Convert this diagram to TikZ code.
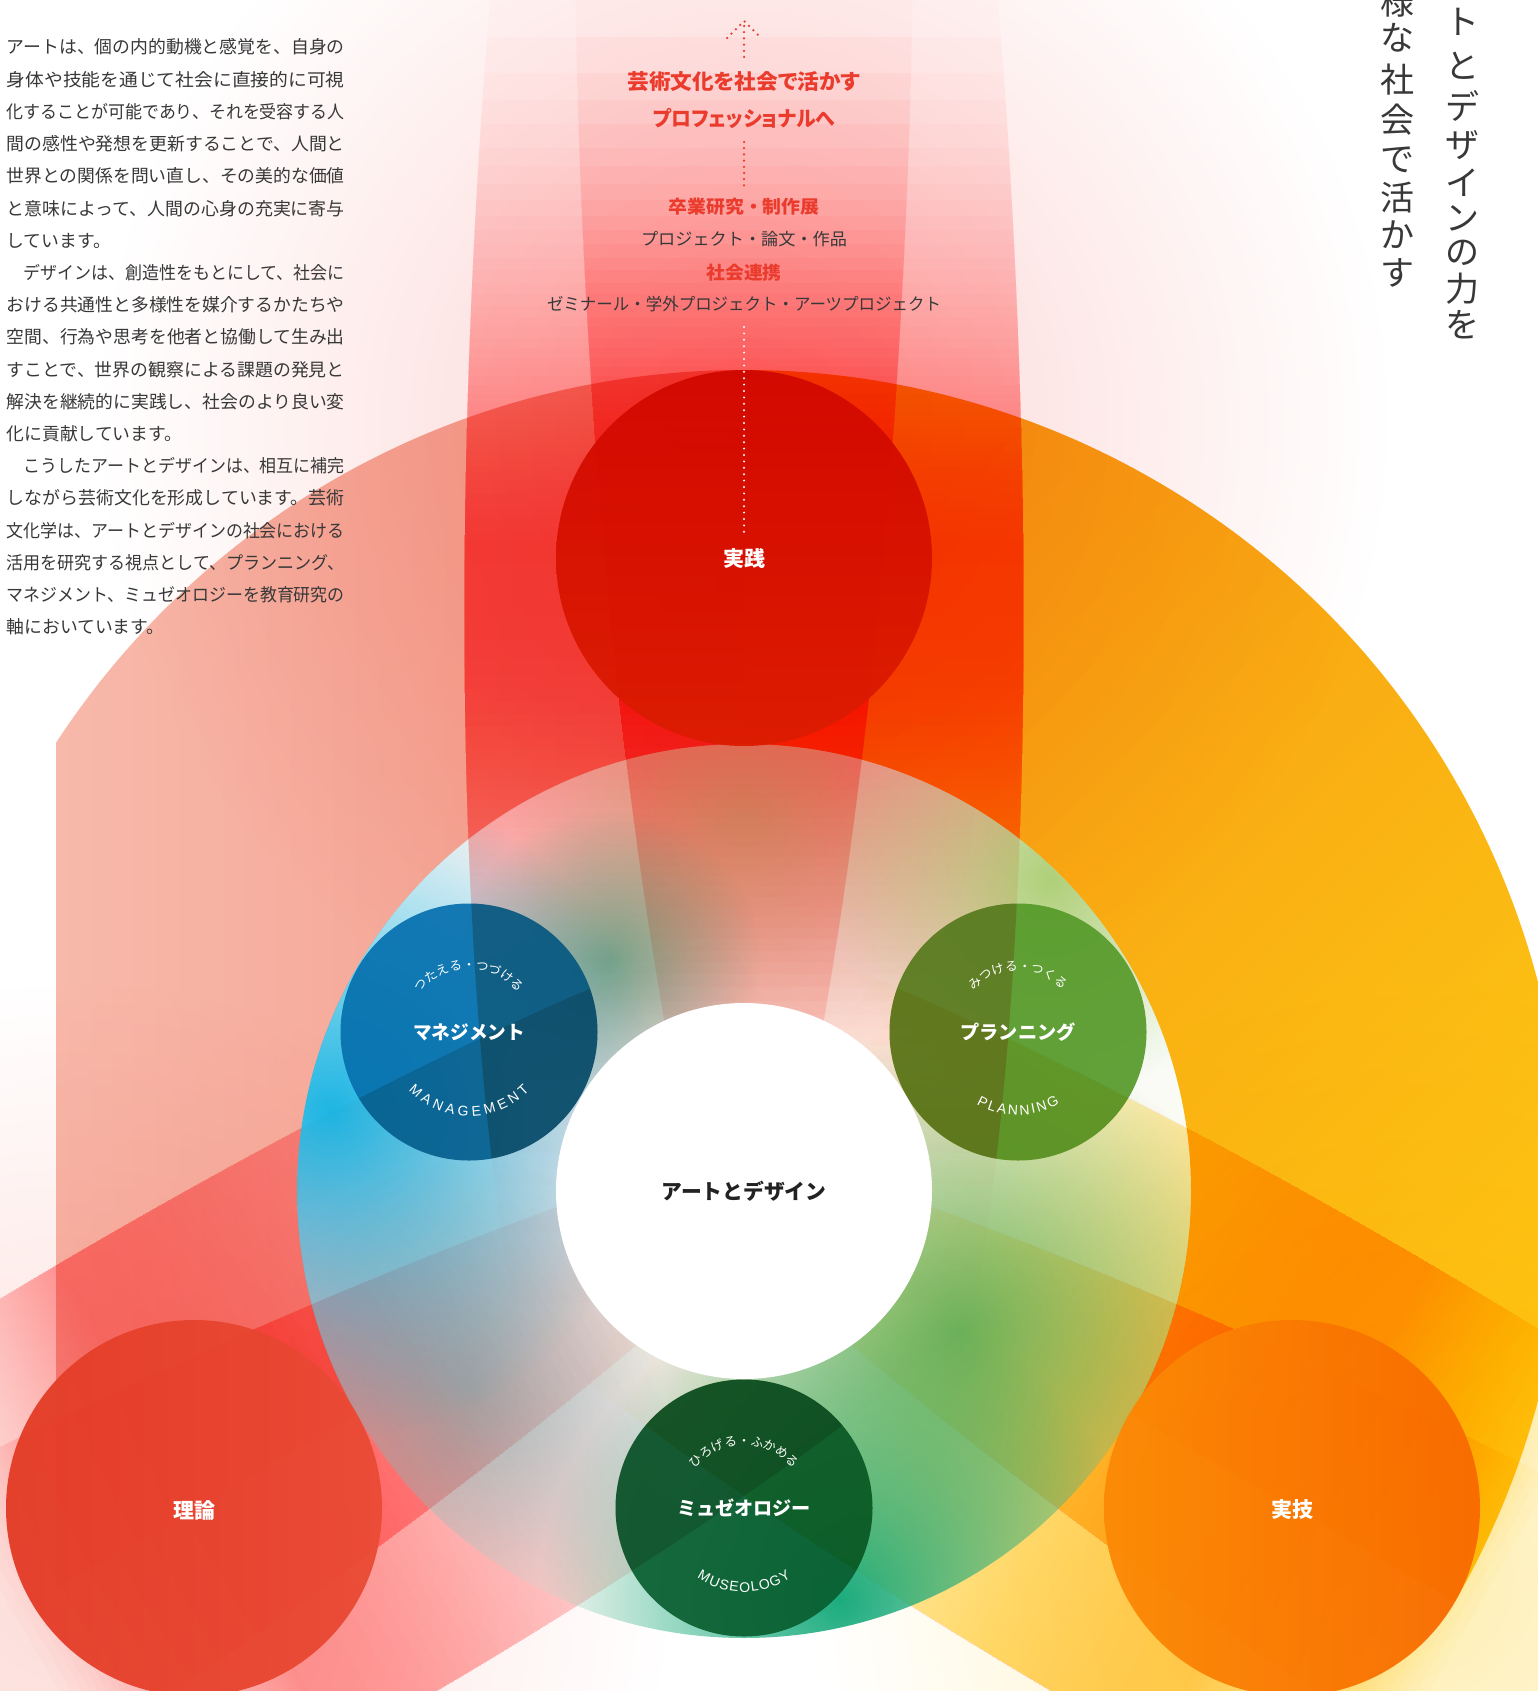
\documentclass[tikz,border=0pt]{standalone}
\usepackage{fontspec}
\usepackage{graphicx}
\usetikzlibrary{decorations.text,calc,fadings}
\newfontfamily\jp{Noto Sans CJK JP}
\newfontfamily\jpp{Noto Sans CJK JP}[RawFeature=+palt]
\newfontfamily\lat{Liberation Sans}
\definecolor{txt}{HTML}{383838}
\definecolor{hred}{HTML}{EA3B2D}
\definecolor{cRed}{HTML}{EE2119}
\definecolor{cSal}{HTML}{F5877A}
\definecolor{cGold}{HTML}{FDC800}
\definecolor{secAa}{HTML}{F8BFB1}
\definecolor{secAb}{HTML}{F39A88}
\definecolor{secBa}{HTML}{F69A12}
\definecolor{secBb}{HTML}{FECC14}
\definecolor{ringbase}{HTML}{EAF3EA}
\definecolor{cyanb}{HTML}{12B2E2}
\definecolor{tealb}{HTML}{10A878}
\definecolor{greenr}{HTML}{3DA24A}
\definecolor{greenb}{HTML}{A2C963}
\definecolor{tealc}{HTML}{3A9AA0}
\definecolor{tealg}{HTML}{1E8A6A}
\definecolor{olivet}{HTML}{8C9A3C}
\definecolor{cMan}{HTML}{0670AE}
\definecolor{cPlan}{HTML}{569A2A}
\definecolor{cMus}{HTML}{095E30}
\definecolor{ovRed}{HTML}{FFCFC2}
\definecolor{ovSal}{HTML}{F2DED6}
\definecolor{ovGold}{HTML}{FFF0C8}
\definecolor{jsA}{HTML}{D10800}
\definecolor{jsB}{HTML}{DC1D02}
\definecolor{rrA}{HTML}{E43C27}
\definecolor{rrB}{HTML}{EA4B36}
\definecolor{jgA}{HTML}{FB8A06}
\definecolor{jgB}{HTML}{F86A00}
\definecolor{dark}{HTML}{222222}
\colorlet{inkRed}{cRed!1.8!white}
\colorlet{inkSal}{cSal!1.6!white}
\colorlet{inkGold}{cGold!2!white}
\tikzfading[name=softdisc, inner color=transparent!0, outer color=transparent!100]
% one tilted ellipse of a lobe, built from nested layers of light ink
% #1 centre x, #2 tilt, #3 ink colour, #4 start of fade, #5 peak, #6 exponent, #7 layers
\newcommand\lobeellipse[7]{%
  \begin{scope}
    \clip[rotate around={#2:(#1,250)}] (#1,250) ellipse [x radius=215, y radius=1290];
    \foreach \j in {1,...,#7}{%
      \pgfmathsetmacro\ya{#4+(#5-#4)*pow(\j/#7,1/#6)}%
      \pgfmathsetmacro\yb{min(1600,560+380*sqrt(0.0001-ln(\j/#7)))}%
      \fill[#3] (300,\ya) rectangle (1200,\yb);}
  \end{scope}}
\newcommand\drawlobe[5]{%
  \begin{scope}[rotate around={#1:(744,1191)}]
    \lobeellipse{689}{-2.9}{#2}{#3}{#4}{#5}{46}
    \lobeellipse{799}{2.9}{#2}{#3}{#4}{#5}{46}
  \end{scope}}
\newcommand\flatlobe[2]{%
  \begin{scope}[rotate around={#1:(744,1191)}]
    \fill[#2, rotate around={-2.9:(689,250)}] (689,250) ellipse [x radius=215, y radius=1290];
    \fill[#2, rotate around={2.9:(799,250)}] (799,250) ellipse [x radius=215, y radius=1290];
  \end{scope}}
\newcommand\arcjp{\jp\fontsize{12.5}{14}\selectfont}
\newcommand\arclat{\lat\fontsize{14}{16}\selectfont}
\begin{document}
\begin{tikzpicture}[x=1pt,y=-1pt,
  reddots/.style={draw=hred, line width=2.5pt, line cap=round, dash pattern=on 0pt off 6.2pt},
  whitedots/.style={draw=white, line width=2.2pt, line cap=round, dash pattern=on 0pt off 6.4pt},
  body/.style={anchor=base west, inner sep=0pt, text=txt, font=\jp\fontsize{17.8}{20}\selectfont},
  head/.style={inner sep=0pt, text=hred, font=\jpp\bfseries\fontsize{21}{24}\selectfont},
  subh/.style={inner sep=0pt, text=hred, font=\jp\bfseries\fontsize{18}{20}\selectfont},
  item/.style={inner sep=0pt, text=txt, font=\jp\fontsize{17}{20}\selectfont},
  lab/.style={inner sep=0pt, text=white, font=\jp\bfseries\fontsize{19}{22}\selectfont},
  biglab/.style={inner sep=0pt, text=white, font=\jp\bfseries\fontsize{21}{24}\selectfont},
  vch/.style={inner sep=0pt, text=txt, font=\jp\fontsize{34}{36}\selectfont},
  smallc/.style={circle, inner sep=0pt, minimum size=257pt, fill opacity=0.92},
  outerc/.style={circle, inner sep=0pt, minimum size=376pt},
  blob/.style={path fading=softdisc},
  arctop/.style={decorate, decoration={text along path, text align=center, text color=white, text={#1}}},
  arcbot/.style={decorate, decoration={text along path, text align=fit to path, text color=white, text={#1}}},
  ]
\useasboundingbox (0,0) rectangle (1538,1691);
\begin{scope}
\clip (0,0) rectangle (1538,1691);
\fill[white] (0,0) rectangle (1538,1691);
\coordinate (C) at (744,1191);
\coordinate (G0) at (744,420);
% ---------- multiply layers: sectors, glows, lobes ----------
\begin{scope}[blend mode=multiply]
  \begin{scope}
    \clip (56,0) rectangle (800,1691);
    \shade[left color=secAa, right color=secAb] (357.1,1414.5) arc[start angle=150, end angle=270, radius=447] -- (744,370) arc[start angle=270, end angle=150, radius=821] -- cycle;
  \end{scope}
  \shade[shading=axis, top color=secBa, bottom color=secBb, shading angle=45] (744,744) arc[start angle=270, end angle=390, radius=447] -- (1455,1601.5) arc[start angle=30, end angle=-90, radius=821] -- cycle;
  \shade[inner color=cRed!20!white, outer color=white] (G0) circle (650);
  \shade[inner color=cSal!30!white, outer color=white] ($(C)!1!120:(G0)$) circle (600);
  \shade[inner color=cGold!30!white, outer color=white] ($(C)!1!-120:(G0)$) circle (600);
  \drawlobe{0}{inkRed}{-150}{540}{2.4}
  \drawlobe{120}{inkSal}{330}{560}{1.5}
  \drawlobe{-120}{inkGold}{330}{560}{1.5}
\end{scope}
% ---------- translucent ring ----------
\begin{scope}
  \clip (C) circle (447);
  \fill[ringbase, fill opacity=0.2] (C) circle (447);
  \fill[cyanb, fill opacity=0.95, blob] (330,1110) circle (330);
  \fill[tealb, fill opacity=0.95, blob] (840,1600) circle (300);
  \fill[greenr, fill opacity=0.75, blob] (960,1330) circle (300);
  \fill[greenb, fill opacity=0.85, blob] (1050,880) circle (220);
  \fill[tealc, fill opacity=0.45, blob] (470,1390) circle (230);
  \fill[tealg, fill opacity=0.6, blob] (610,960) circle (150);
  \fill[olivet, fill opacity=0.35, blob] (744,820) circle (230);
\end{scope}
% ---------- small circles ----------
\node[smallc, fill=cMan] (man) at (469,1032) {};
\node[smallc, fill=cPlan] (plan) at (1018,1032) {};
\node[smallc, fill=cMus] (mus) at (744,1508) {};
% lobe edges crossing the small circles
\begin{scope}[blend mode=multiply]
  \begin{scope}
    \clip (469,1032) circle (128.5) (1018,1032) circle (128.5);
    \flatlobe{0}{ovRed}
  \end{scope}
  \begin{scope}
    \clip (469,1032) circle (128.5) (744,1508) circle (128.5);
    \flatlobe{120}{ovSal}
  \end{scope}
  \begin{scope}
    \clip (1018,1032) circle (128.5) (744,1508) circle (128.5);
    \flatlobe{-120}{ovGold}
  \end{scope}
\end{scope}
% ---------- white centre and outer circles ----------
\node[outerc, fill=white] (core) at (C) {};
\node[outerc, top color=jsA, bottom color=jsB, fill opacity=0.96] (jissen) at (744,558) {};
\node[outerc, left color=rrA, right color=rrB, fill opacity=0.96] (riron) at (194,1508) {};
\node[outerc, left color=jgA, right color=jgB, fill opacity=0.96] (jitsugi) at (1292,1508) {};
% ---------- labels ----------
\node[inner sep=0pt, text=dark, font=\jp\bfseries\fontsize{21}{24}\selectfont] (coreL) at (744,1191) {\resizebox{165pt}{\height}{アートとデザイン}};
\node[biglab] (jissenL) at (744,559) {実践};
\node[biglab] (rironL) at (194,1510) {理論};
\node[biglab] (jitsugiL) at (1292,1510) {実技};
\node[lab] (manL) at (469,1032) {\resizebox{112pt}{\height}{マネジメント}};
\node[lab] (planL) at (1018,1032) {\resizebox{115pt}{\height}{プランニング}};
\node[lab] (musL) at (744,1508) {\resizebox{134pt}{\height}{ミュゼオロジー}};
% arc texts
\path[arctop={|\arcjp|つたえる・つづける}] (man.center) ++(-180:63) arc[start angle=-180, end angle=0, radius=63];
\path[arcbot={|\arclat|MANAGEMENT}] (man.center) ++(136:84) arc[start angle=136, end angle=44, radius=84];
\path[arctop={|\arcjp|みつける・つくる}] (plan.center) ++(-180:61) arc[start angle=-180, end angle=0, radius=61];
\path[arcbot={|\arclat|PLANNING}] (plan.center) ++(120:83) arc[start angle=120, end angle=60, radius=83];
\path[arctop={|\arcjp|ひろげる・ふかめる}] (mus.center) ++(-180:63) arc[start angle=-180, end angle=0, radius=63];
\path[arcbot={|\arclat|MUSEOLOGY}] (mus.center) ++(124:84) arc[start angle=124, end angle=56, radius=84];
% ---------- top centre texts ----------
\node[head] (h1) at (744,82) {\resizebox{233pt}{\height}{芸術文化を社会で活かす}};
\node[head] (h2) at (744,118) {\resizebox{182pt}{\height}{プロフェッショナルへ}};
\node[subh] (s1) at (744,207) {\resizebox{151pt}{\height}{卒業研究・制作展}};
\node[item] (i1) at (744,239) {\resizebox{206pt}{\height}{プロジェクト・論文・作品}};
\node[subh] (s2) at (744,273) {\resizebox{75pt}{\height}{社会連携}};
\node[item] (i2) at (744,304) {\resizebox{394pt}{\height}{ゼミナール・学外プロジェクト・アーツプロジェクト}};
\coordinate (arrTip) at (744,21);
\coordinate (arrL) at (727,38);
\coordinate (arrR) at (761,38);
\coordinate (arrBot) at (744,57);
\draw[reddots] (arrBot) -- (arrTip);
\draw[reddots] (arrL) -- (arrTip) -- (arrR);
\coordinate (d1a) at (744,142);
\coordinate (d1b) at (744,186);
\draw[reddots] (d1a) -- (d1b);
\coordinate (d2a) at (744,327);
\coordinate (d2b) at (744,533);
\draw[whitedots] (d2a) -- (d2b);
% ---------- left paragraph ----------
\node[body] (p1) at (6.5,54) {\resizebox{338pt}{\height}{アートは、個の内的動機と感覚を、自身の}};
\node[body] (p2) at (6.5,86.2) {\resizebox{338pt}{\height}{身体や技能を通じて社会に直接的に可視}};
\node[body] (p3) at (6.5,118.4) {\resizebox{338pt}{\height}{化することが可能であり、それを受容する人}};
\node[body] (p4) at (6.5,150.6) {\resizebox{338pt}{\height}{間の感性や発想を更新することで、人間と}};
\node[body] (p5) at (6.5,182.8) {\resizebox{338pt}{\height}{世界との関係を問い直し、その美的な価値}};
\node[body] (p6) at (6.5,215.0) {\resizebox{338pt}{\height}{と意味によって、人間の心身の充実に寄与}};
\node[body] (p7) at (6.5,247.2) {しています。};
\node[body] (p8) at (6.5,279.4) {\resizebox{338pt}{\height}{　デザインは、創造性をもとにして、社会に}};
\node[body] (p9) at (6.5,311.6) {\resizebox{338pt}{\height}{おける共通性と多様性を媒介するかたちや}};
\node[body] (p10) at (6.5,343.8) {\resizebox{338pt}{\height}{空間、行為や思考を他者と協働して生み出}};
\node[body] (p11) at (6.5,376.0) {\resizebox{338pt}{\height}{すことで、世界の観察による課題の発見と}};
\node[body] (p12) at (6.5,408.2) {\resizebox{338pt}{\height}{解決を継続的に実践し、社会のより良い変}};
\node[body] (p13) at (6.5,440.4) {化に貢献しています。};
\node[body] (p14) at (6.5,472.6) {\resizebox{338pt}{\height}{　こうしたアートとデザインは、相互に補完}};
\node[body] (p15) at (6.5,504.8) {\resizebox{338pt}{\height}{しながら芸術文化を形成しています。芸術}};
\node[body] (p16) at (6.5,537.0) {\resizebox{338pt}{\height}{文化学は、アートとデザインの社会における}};
\node[body] (p17) at (6.5,569.2) {\resizebox{338pt}{\height}{活用を研究する視点として、プランニング、}};
\node[body] (p18) at (6.5,601.4) {\resizebox{338pt}{\height}{マネジメント、ミュゼオロジーを教育研究の}};
\node[body] (p19) at (6.5,633.6) {軸においています。};
% ---------- vertical heading ----------
\node[vch] (va0) at (1462,22) {ト};
\node[vch] (va1) at (1462,66) {と};
\node[vch] (va2) at (1462,106) {デ};
\node[vch] (va3) at (1462,145) {ザ};
\node[vch] (va4) at (1462,183) {イ};
\node[vch] (va5) at (1462,218) {ン};
\node[vch] (va6) at (1462,253) {の};
\node[vch] (va7) at (1462,289) {力};
\node[vch] (va8) at (1462,325) {を};
\node[vch] (vb0) at (1397,2) {様};
\node[vch] (vb1) at (1397,38) {な};
\node[vch] (vb2) at (1397,80) {社};
\node[vch] (vb3) at (1397,120) {会};
\node[vch] (vb4) at (1397,160) {で};
\node[vch] (vb5) at (1397,198) {活};
\node[vch] (vb6) at (1397,235) {か};
\node[vch] (vb7) at (1397,273) {す};
\end{scope}
\end{tikzpicture}
\end{document}
